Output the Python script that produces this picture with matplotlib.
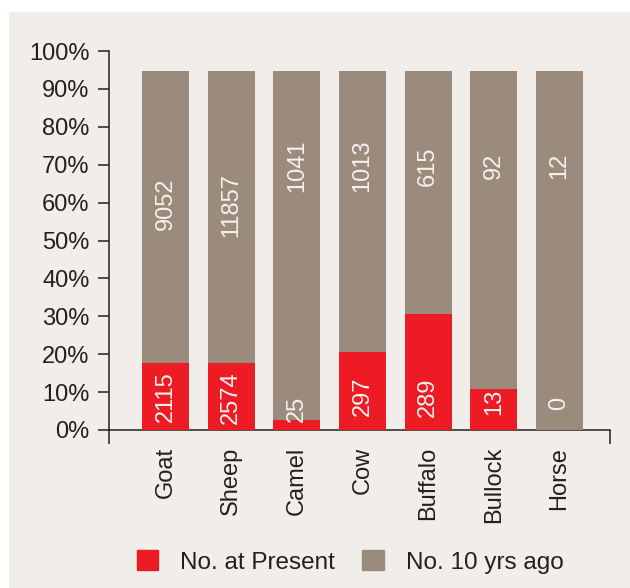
import matplotlib.pyplot as plt
import matplotlib.patches as mpatches
import numpy as np

plt.rcParams['font.family'] = ['Liberation Sans', 'DejaVu Sans']

animals = ['Goat', 'Sheep', 'Camel', 'Cow', 'Buffalo', 'Bullock', 'Horse']
present_count = [2115, 2574, 25, 297, 289, 13, 0]
past_count = [9052, 11857, 1041, 1013, 615, 92, 12]
# bar heights (percent)
present_pct = [17.8, 17.7, 2.6, 20.6, 30.6, 10.8, 0.0]
past_pct = [76.9, 77.0, 92.1, 74.1, 64.1, 83.9, 94.7]

# where the numbers sit on the bars (percent)
present_label_y = [8.7, 8.6, 5.5, 8.8, 8.6, 7.4, 6.9]
past_label_y = [59.6, 59.4, 69.6, 69.8, 69.6, 69.7, 69.7]

red = '#ED1C24'
taupe = '#9B8B7C'
bg = '#F1EEEA'
ink = '#231F20'

fig = plt.figure(figsize=(6.3, 5.88), dpi=100)
fig.patch.set_facecolor('white')
fig.patches.append(mpatches.Rectangle((9 / 630, 0), 1, 1 - 12 / 588,
                                      transform=fig.transFigure,
                                      facecolor=bg, edgecolor='none', zorder=-10))

ax = fig.add_axes([109 / 630, 1 - 430 / 588, (610 - 109) / 630, (430 - 51) / 588])
ax.set_facecolor('none')
ax.set_zorder(1)

x = np.arange(len(animals))
w = 0.715
ax.bar(x, present_pct, width=w, color=red, zorder=3, label='No. at Present')
ax.bar(x, past_pct, width=w, bottom=present_pct, color=taupe, zorder=3,
       label='No. 10 yrs ago')

for i in range(len(animals)):
    ax.text(x[i], present_label_y[i], str(present_count[i]), rotation=90,
            ha='center', va='center', color='#F5F2EE', fontsize=17, zorder=4)
    ax.text(x[i], past_label_y[i], str(past_count[i]), rotation=90,
            ha='center', va='center', color='#F5F2EE', fontsize=17, zorder=4)

ax.set_xlim(-0.86, 6.77)
ax.set_ylim(0, 100)
ax.set_yticks(np.arange(0, 101, 10))
ax.set_yticklabels([f'{v}%' for v in range(0, 101, 10)])
ax.tick_params(axis='y', direction='out', length=8, width=1.1, color=ink,
               labelsize=17, labelcolor=ink, pad=6)

ax.set_xticks(x)
ax.set_xticklabels(animals, rotation=90, va='top', ha='center')
ax.tick_params(axis='x', length=0, labelsize=17, labelcolor=ink, pad=12)
ax.set_xticks([-0.86, 6.77], minor=True)
ax.tick_params(axis='x', which='minor', direction='out', length=10, width=1.1,
               color=ink)

for s in ['top', 'right']:
    ax.spines[s].set_visible(False)
for s in ['left', 'bottom']:
    ax.spines[s].set_color(ink)
    ax.spines[s].set_linewidth(1.1)

handles = [mpatches.Patch(color=red), mpatches.Patch(color=taupe)]
fig.legend(handles, ['No. at Present', 'No. 10 yrs ago'], loc='center',
           bbox_to_anchor=(350 / 630, 1 - 562 / 588), ncol=2, frameon=False,
           fontsize=17.5, handlelength=0.9, handleheight=0.9,
           handletextpad=0.9, columnspacing=1.1, labelcolor=ink)

fig.savefig('out.png', dpi=100, facecolor=fig.get_facecolor())
